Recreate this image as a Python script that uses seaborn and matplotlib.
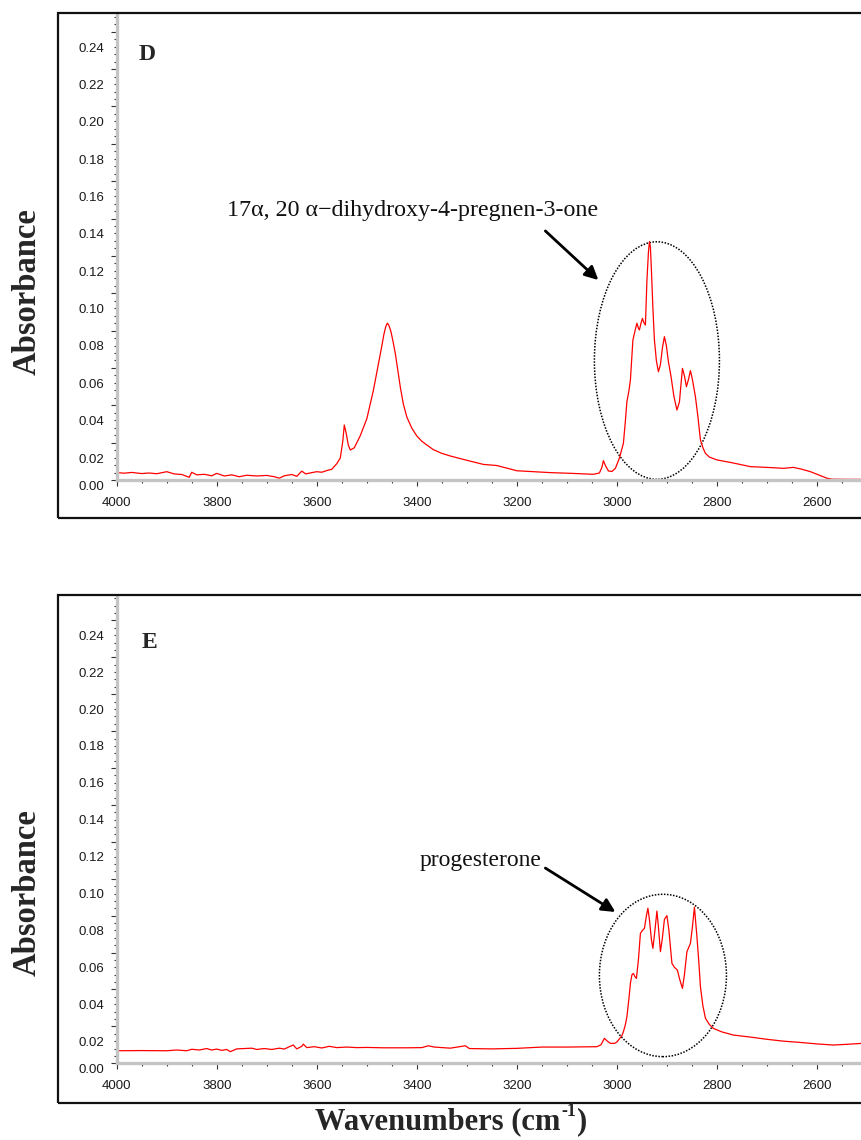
import numpy as np
import pandas as pd
import matplotlib
matplotlib.use("Agg")
import matplotlib.pyplot as plt
import matplotlib.transforms as mtransforms
from matplotlib.patches import Ellipse, Rectangle
from matplotlib.ticker import MultipleLocator, FixedLocator
import seaborn as sns

# ---------------- data ----------------
wn_D = [4000, 3985, 3970, 3950, 3935, 3920, 3900, 3885, 3870, 3855, 3850, 3840, 3825, 3810,
        3800, 3785, 3770, 3755, 3740, 3720, 3700, 3685, 3675, 3665, 3650, 3640, 3630, 3622,
        3610, 3600, 3590, 3580, 3570, 3560, 3553, 3548, 3545, 3541, 3537, 3533, 3525, 3513,
        3500, 3487, 3477, 3470, 3466, 3462, 3459, 3456, 3452, 3448, 3443, 3438, 3433, 3427,
        3420, 3410, 3400, 3390, 3380, 3367,
        3350, 3333, 3300, 3267, 3240, 3200, 3160, 3133, 3090, 3047, 3035, 3030, 3027, 3023,
        3017, 3010, 3003, 2995, 2987, 2983, 2980, 2976, 2973, 2968, 2963, 2960, 2957, 2955,
        2952, 2949, 2946, 2943, 2940, 2937, 2935, 2933, 2931, 2928, 2925, 2921, 2917, 2913,
        2909, 2905, 2901, 2897, 2892, 2886, 2880, 2875, 2871, 2869, 2865, 2861, 2857, 2853,
        2849, 2843, 2838, 2833, 2828, 2823, 2815, 2800, 2770, 2733, 2700, 2667, 2647, 2630,
        2613, 2595, 2580, 2570, 2540, 2510]
abs_D = [0.0122, 0.0119, 0.0123, 0.0117, 0.0120, 0.0116, 0.0127, 0.0115, 0.0112, 0.0097,
         0.0124, 0.0110, 0.0113, 0.0105, 0.0118, 0.0104, 0.0110, 0.0100, 0.0108, 0.0104,
         0.0107, 0.0100, 0.0092, 0.0105, 0.0112, 0.0102, 0.0130, 0.0115, 0.0122, 0.0127,
         0.0124, 0.0133, 0.0140, 0.0170, 0.0200, 0.0290, 0.0377, 0.0330, 0.0270, 0.0243,
         0.0255, 0.0320, 0.0410, 0.0560, 0.0700, 0.0800, 0.0860, 0.0905, 0.0922, 0.0912,
         0.0880, 0.0830, 0.0760, 0.0670, 0.0580, 0.0490,
         0.0420, 0.0360, 0.0318, 0.0290, 0.0270, 0.0245,
         0.0225, 0.0211, 0.0188, 0.0166,
         0.0160, 0.0132, 0.0126, 0.0122, 0.0118, 0.0113, 0.0120, 0.0150, 0.0186, 0.0160,
         0.0131, 0.0128, 0.0145, 0.0200, 0.0279, 0.0400, 0.0502, 0.0560, 0.0618, 0.0832,
         0.0890, 0.0922, 0.0895, 0.0886, 0.0920, 0.0948, 0.0925, 0.0912, 0.1150, 0.1300,
         0.1359, 0.1330, 0.1207, 0.1000, 0.0832, 0.0720, 0.0662, 0.0700, 0.0790, 0.0850,
         0.0800, 0.0716, 0.0640, 0.0530, 0.0457, 0.0500, 0.0620, 0.0680, 0.0640, 0.0582,
         0.0620, 0.0668, 0.0620, 0.0528, 0.0420, 0.0297, 0.0255, 0.0225, 0.0205, 0.0190,
         0.0175, 0.0154, 0.0150, 0.0145, 0.0150, 0.0140, 0.0127, 0.0108, 0.0092, 0.0087,
         0.0086, 0.0086]

wn_E = [4000, 3950, 3900, 3880, 3860, 3850, 3835, 3820, 3810, 3800, 3790, 3780, 3773, 3760,
        3745, 3730, 3720, 3705, 3690, 3675, 3665, 3655, 3647, 3640, 3630, 3627, 3620, 3605,
        3590, 3575, 3560, 3540, 3520, 3500, 3467, 3420, 3390, 3377, 3365, 3333, 3303, 3295,
        3250, 3200, 3150, 3100, 3040, 3032, 3025, 3019, 3013, 3005, 3000, 2990, 2987, 2983,
        2980, 2976, 2973, 2970, 2967, 2964, 2961, 2957, 2953, 2949, 2945, 2941, 2938, 2935,
        2931, 2928, 2924, 2920, 2917, 2913, 2909, 2905, 2900, 2896, 2890, 2885, 2879, 2875,
        2869, 2865, 2860, 2853, 2849, 2845, 2840, 2836, 2833, 2828, 2823, 2815, 2807, 2790,
        2767, 2733, 2700, 2667, 2633, 2600, 2567, 2540, 2510]
abs_E = [0.0148, 0.0149, 0.0148, 0.0152, 0.0148, 0.0156, 0.0152, 0.0160, 0.0152, 0.0157,
         0.0150, 0.0155, 0.0143, 0.0158, 0.0160, 0.0162, 0.0155, 0.0160, 0.0155, 0.0162,
         0.0157, 0.0170, 0.0179, 0.0158, 0.0172, 0.0184, 0.0165, 0.0170, 0.0163, 0.0172,
         0.0165, 0.0168, 0.0165, 0.0166, 0.0164, 0.0164, 0.0165, 0.0175, 0.0168, 0.0162,
         0.0175, 0.0160, 0.0158, 0.0161, 0.0168, 0.0168, 0.0170, 0.0180, 0.0215, 0.0200,
         0.0188, 0.0188, 0.0195, 0.0230, 0.0251, 0.0290, 0.0332, 0.0430, 0.0513, 0.0560,
         0.0567, 0.0550, 0.0540, 0.0640, 0.0784, 0.0800, 0.0811, 0.0880, 0.0920, 0.0860,
         0.0750, 0.0703, 0.0800, 0.0905, 0.0820, 0.0685, 0.0760, 0.0860, 0.0880, 0.0800,
         0.0622, 0.0600, 0.0585, 0.0540, 0.0486, 0.0560, 0.0685, 0.0730, 0.0820, 0.0926,
         0.0766, 0.0620, 0.0495, 0.0390, 0.0324, 0.0290, 0.0269, 0.0250, 0.0233, 0.0222,
         0.0210, 0.0200, 0.0193, 0.0185, 0.0179, 0.0183, 0.0188]

ytick_labels = ["0.00", "0.02", "0.04", "0.06", "0.08", "0.10", "0.12",
                "0.14", "0.16", "0.18", "0.20", "0.22", "0.24"]
panel_letters = ["D", "E"]
annotations = ["17\u03b1, 20 \u03b1\u2212dihydroxy-4-pregnen-3-one", "progesterone"]

# ---------------- style ----------------
sns.set_style("white")
plt.rcParams["font.family"] = ["Liberation Sans", "DejaVu Sans"]
SERIF = ["Liberation Serif", "DejaVu Serif"]

W, H = 862, 1140
fig = plt.figure(figsize=(W / 100, H / 100), dpi=100)


def fx(px):
    return px / W


def fy(py):
    return 1 - py / H


def make_panel(top_px, bottom_px, y0, ytop, zero_lab, frame_top, frame_bot):
    left_px = 116.7
    ax = fig.add_axes([fx(left_px), fy(bottom_px), (W - left_px) / W,
                       (bottom_px - top_px) / H])
    ax.set_xlim(4000, 2510)
    ax.set_ylim(y0, ytop)
    for s in ["top", "right"]:
        ax.spines[s].set_visible(False)
    for s in ["left", "bottom"]:
        ax.spines[s].set_color("#c4c4c4")
        ax.spines[s].set_linewidth(2.4)
    ax.xaxis.set_major_locator(MultipleLocator(200))
    ax.xaxis.set_minor_locator(MultipleLocator(50))
    ax.yaxis.set_major_locator(FixedLocator(np.arange(y0, ytop, 0.02)))
    ax.yaxis.set_minor_locator(FixedLocator(np.arange(y0, ytop, 0.004)))
    ax.tick_params(axis="x", which="major", direction="out", length=4, width=0.8,
                   color="#333333", pad=8, labelsize=9.5, labelcolor="#1a1a1a",
                   bottom=True)
    ax.tick_params(axis="x", which="minor", direction="out", length=2, width=0.8,
                   color="#333333", bottom=True)
    ax.tick_params(axis="y", which="major", direction="out", length=4, width=0.8,
                   color="#333333", labelleft=False, left=True)
    ax.tick_params(axis="y", which="minor", direction="out", length=2, width=0.8,
                   color="#333333", left=True)
    # tick labels of the absorbance axis (drawn slightly below their tick marks)
    sec = ax.secondary_yaxis("left")
    for s in sec.spines.values():
        s.set_visible(False)
    lab_vals = [0.02 * i for i in range(1, 13)]
    sec.set_yticks(lab_vals, labels=ytick_labels[1:])
    sec.tick_params(length=0, pad=9, labelsize=9.5, labelcolor="#1a1a1a")
    trans = mtransforms.blended_transform_factory(ax.transAxes, ax.transData)
    ax.text(-0.0165, zero_lab, ytick_labels[0], transform=trans, ha="right",
            va="center", fontsize=9.5, color="#1a1a1a")
    # outer frame
    fig.add_artist(Rectangle((fx(58), fy(frame_bot)), 1.0, fy(frame_top) - fy(frame_bot),
                             transform=fig.transFigure, fill=False,
                             edgecolor="#111111", lw=1.6))
    return ax


axD = make_panel(13, 480, 0.00825, 0.2583, 0.0045, 12.5, 518)
axE = make_panel(597, 1063.3, 0.008, 0.2607, 0.0046, 595, 1103)

dfD = pd.DataFrame({"wn": wn_D, "abs": abs_D})
dfE = pd.DataFrame({"wn": wn_E, "abs": abs_E})
sns.lineplot(data=dfD, x="wn", y="abs", ax=axD, color="#ff0000", lw=0.9,
             sort=False, estimator=None)
sns.lineplot(data=dfE, x="wn", y="abs", ax=axE, color="#ff0000", lw=0.9,
             sort=False, estimator=None)
for ax in (axD, axE):
    ax.set_xlabel("")
    ax.set_ylabel("")
    ax.set_xlim(4000, 2510)

# ellipses
axD.add_patch(Ellipse((2920, 0.0722), 250, 0.1272, fill=False, ec="black",
                      lw=1.1, ls=(0, (1, 1))))
axE.add_patch(Ellipse((2908, 0.0556), 254, 0.088, fill=False, ec="black",
                      lw=1.1, ls=(0, (1, 1))))

# arrows + annotation texts
arrow = dict(arrowstyle="-|>", color="black", lw=2, mutation_scale=20,
             shrinkA=0, shrinkB=0)
axD.annotate("", xy=(3037, 0.1153), xytext=(3143, 0.1416), arrowprops=arrow)
axE.annotate("", xy=(3003, 0.090), xytext=(3143, 0.1138), arrowprops=arrow)
axD.text(3038, 0.1523, annotations[0], ha="right", va="center", fontsize=17.3,
         family=SERIF, color="#111111")
axE.text(3150, 0.118, annotations[1], ha="right", va="center", fontsize=17,
         family=SERIF, color="#111111")

# panel letters
fig.text(fx(147.5), fy(55), panel_letters[0], ha="center", va="center",
         fontsize=17, fontweight="bold", family=SERIF)
fig.text(fx(149), fy(642.5), panel_letters[1], ha="center", va="center",
         fontsize=17, fontweight="bold", family=SERIF)

# axis titles
for yc in (292, 893):
    fig.text(fx(27), fy(yc), "Absorbance", rotation=90, ha="center", va="center",
             fontsize=23.5, fontweight="bold", family=SERIF)
# x title with a hyphen-style superscript
xt = fig.text(fx(315), fy(1122), "Wavenumbers (cm", ha="left", va="center",
              fontsize=22, fontweight="bold", family=SERIF)
fig.canvas.draw()
bb = xt.get_window_extent()
sup = fig.text(bb.x1 / W + 0.001, fy(1112), "-1", ha="left", va="center",
               fontsize=13, fontweight="bold", family=SERIF)
fig.canvas.draw()
bb2 = sup.get_window_extent()
fig.text(bb2.x1 / W + 0.001, fy(1122), ")", ha="left", va="center",
         fontsize=22, fontweight="bold", family=SERIF)

fig.savefig("out.png", dpi=100)
